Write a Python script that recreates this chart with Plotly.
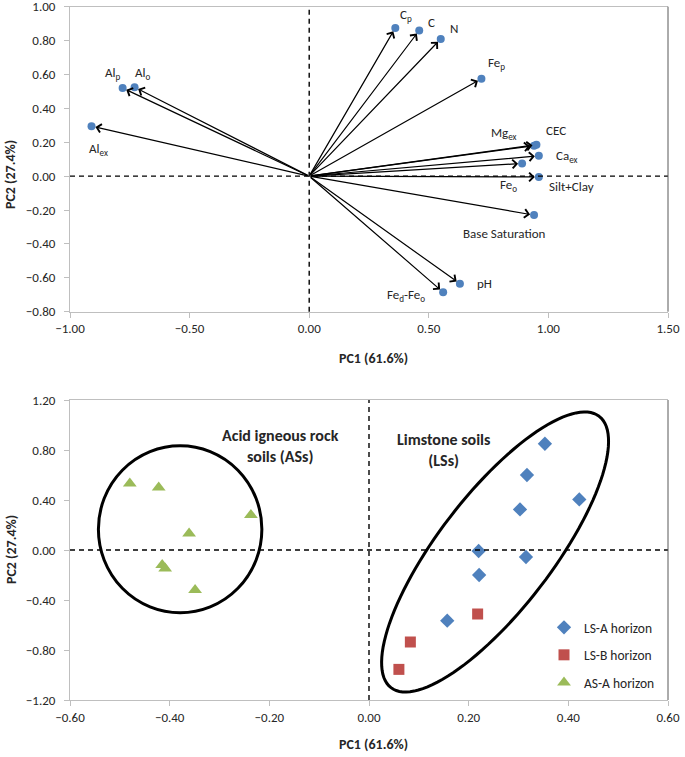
import numpy as np
import plotly.graph_objects as go

# ---------------- Data: loadings (top biplot) ----------------
var_labels = ["C<sub>p</sub>", "C", "N", "Fe<sub>p</sub>", "Al<sub>p</sub>", "Al<sub>o</sub>",
              "Al<sub>ex</sub>", "Mg<sub>ex</sub>", "CEC", "Ca<sub>ex</sub>", "Fe<sub>o</sub>",
              "Silt+Clay", "Base Saturation", "pH", "Fe<sub>d</sub>-Fe<sub>o</sub>"]
load_pc1 = [0.36, 0.46, 0.55, 0.72, -0.78, -0.73, -0.91, 0.94, 0.95, 0.96, 0.89, 0.96, 0.94, 0.63, 0.56]
load_pc2 = [0.875, 0.86, 0.81, 0.575, 0.52, 0.525, 0.295, 0.18, 0.185, 0.12, 0.075, -0.005, -0.23, -0.635, -0.685]

# label offsets in pixels (position styling, not data)
label_shift = [(11, 12), (12, 8), (13, 10), (15, 15), (-10, 15), (8, 14), (7, -23),
               (-30, 12), (20, 14), (28, -1), (-14, -22), (33, -10), (-30, -18), (25, 0), (-37, -3)]

# ---------------- Data: scores (bottom plot) ----------------
lsa_pc1 = [0.353, 0.317, 0.422, 0.303, 0.220, 0.315, 0.221, 0.157]
lsa_pc2 = [0.85, 0.60, 0.405, 0.325, -0.008, -0.056, -0.20, -0.565]
lsb_pc1 = [0.218, 0.083, 0.060]
lsb_pc2 = [-0.512, -0.736, -0.955]
asa_pc1 = [-0.480, -0.422, -0.237, -0.361, -0.415, -0.409, -0.349]
asa_pc2 = [0.533, 0.50, 0.28, 0.133, -0.12, -0.147, -0.32]

top_xticks = [-1.0, -0.5, 0.0, 0.5, 1.0, 1.5]
top_yticks = [-0.8, -0.6, -0.4, -0.2, 0.0, 0.2, 0.4, 0.6, 0.8, 1.0]
bot_xticks = [-0.6, -0.4, -0.2, 0.0, 0.2, 0.4, 0.6]
bot_yticks = [-1.2, -0.8, -0.4, 0.0, 0.4, 0.8, 1.2]

FONT = "Calibri, Carlito, Lato, sans-serif"
TXT = "#262626"
BLUE = "#4F81BD"
RED = "#C0504D"
GREEN = "#9BBB59"
AXC = "#BFBFBF"

W, H = 685, 757
XL, XR = 70, 668
fig = go.Figure()

# top plot markers
fig.add_trace(go.Scatter(x=load_pc1, y=load_pc2, mode="markers", xaxis="x", yaxis="y",
                         marker=dict(color=BLUE, size=8), showlegend=False, hoverinfo="skip"))

# bottom plot series
fig.add_trace(go.Scatter(x=lsa_pc1, y=lsa_pc2, mode="markers", xaxis="x2", yaxis="y2",
                         name="LS-A horizon", legendgroup="a",
                         marker=dict(symbol="diamond", color=BLUE, size=11)))
fig.add_trace(go.Scatter(x=lsb_pc1, y=lsb_pc2, mode="markers", xaxis="x2", yaxis="y2",
                         name="LS-B horizon", legendgroup="b",
                         marker=dict(symbol="square", color=RED, size=11)))
fig.add_trace(go.Scatter(x=asa_pc1, y=asa_pc2, mode="markers", xaxis="x2", yaxis="y2",
                         name="AS-A horizon", legendgroup="c",
                         marker=dict(symbol="triangle-up", color=GREEN, size=12)))

annotations = []
# arrows and labels
for lab, px, py, (dx, dy) in zip(var_labels, load_pc1, load_pc2, label_shift):
    annotations.append(dict(x=px, y=py, ax=0, ay=0, xref="x", yref="y", axref="x", ayref="y",
                            text="", showarrow=True, arrowhead=4, arrowsize=1.4,
                            arrowwidth=1.2, arrowcolor="black", standoff=4))
    annotations.append(dict(x=px, y=py, xref="x", yref="y", text=lab, showarrow=False,
                            xshift=dx, yshift=dy, font=dict(family=FONT, size=13, color=TXT)))

# group labels
annotations.append(dict(x=-0.178, y=0.83, xref="x2", yref="y2", showarrow=False,
                        text="<b>Acid igneous rock<br>soils (ASs)</b>",
                        font=dict(family=FONT, size=16, color=TXT)))
annotations.append(dict(x=0.15, y=0.80, xref="x2", yref="y2", showarrow=False,
                        text="<b>Limstone soils<br>(LSs)</b>",
                        font=dict(family=FONT, size=16, color=TXT)))

# axis titles
for yy in [1 - 358 / H, 1 - 744 / H]:
    annotations.append(dict(x=373 / W, y=yy, xref="paper", yref="paper", showarrow=False,
                            xanchor="center", yanchor="middle",
                            text="<b>PC1 (61.6%)</b>", font=dict(family=FONT, size=14, color=TXT)))
for yy in [1 - 175 / H, 1 - 550 / H]:
    annotations.append(dict(x=11 / W, y=yy, xref="paper", yref="paper", showarrow=False,
                            xanchor="center", yanchor="middle",
                            textangle=-90, text="<b>PC2 (27.4%)</b>",
                            font=dict(family=FONT, size=14, color=TXT)))

shapes = []
dash = dict(color="black", width=1.4, dash="5px,4px")
for xr, yr in [("x", "y"), ("x2", "y2")]:
    shapes.append(dict(type="line", xref=xr, yref=yr + " domain", x0=0, x1=0, y0=0, y1=1, line=dash))
    shapes.append(dict(type="line", xref=xr + " domain", yref=yr, x0=0, x1=1, y0=0, y1=0, line=dash))
    shapes.append(dict(type="line", xref=xr + " domain", yref=yr + " domain", x0=1, x1=1, y0=0, y1=1,
                       line=dict(color="#595959", width=1)))

# circle around AS group
shapes.append(dict(type="circle", xref="x2", yref="y2", x0=-0.379 - 0.164, x1=-0.379 + 0.164,
                   y0=0.166 - 0.668, y1=0.166 + 0.668, line=dict(color="black", width=3)))

# rotated ellipse around LS group (built in pixel space then mapped to data)
sx, sy = (XR - XL) / 1.2, 125.0  # px per unit on bottom axes
cx, cy = 0.253, -0.016
a_px, b_px, th = 171.0, 57.0, np.deg2rad(52.5)
t = np.linspace(0, 2 * np.pi, 121)
ex = cx + (a_px * np.cos(t) * np.cos(th) - b_px * np.sin(t) * np.sin(th)) / sx
ey = cy + (a_px * np.cos(t) * np.sin(th) + b_px * np.sin(t) * np.cos(th)) / sy
path = "M " + " L ".join(f"{x:.4f},{y:.4f}" for x, y in zip(ex, ey)) + " Z"
shapes.append(dict(type="path", xref="x2", yref="y2", path=path, line=dict(color="black", width=3)))

axis_common = dict(showgrid=False, zeroline=False, showline=True, linecolor=AXC, linewidth=1,
                   ticks="outside", ticklen=5, tickcolor=AXC, tickformat=".2f",
                   tickfont=dict(family=FONT, size=13, color=TXT), automargin=False,
                   ticklabeloverflow="allow")

fig.update_layout(
    width=W, height=H, margin=dict(l=0, r=0, t=0, b=0),
    paper_bgcolor="white", plot_bgcolor="white",
    xaxis=dict(domain=[XL / W, XR / W], range=[-1.0, 1.5], tickvals=top_xticks, anchor="y",
               mirror=True, **axis_common),
    yaxis=dict(domain=[1 - 311.7 / H, 1 - 6.7 / H], range=[-0.8, 1.0], tickvals=top_yticks,
               anchor="x", ticklabelstandoff=6, **axis_common),
    xaxis2=dict(domain=[XL / W, XR / W], range=[-0.6, 0.6], tickvals=bot_xticks, anchor="y2",
                mirror=True, **axis_common),
    yaxis2=dict(domain=[1 - 700 / H, 1 - 400 / H], range=[-1.2, 1.2], tickvals=bot_yticks,
                anchor="x2", ticklabelstandoff=6, **axis_common),
    legend=dict(x=544 / W, y=1 - 612 / H, xanchor="left", yanchor="top",
                font=dict(family=FONT, size=13.5, color=TXT), bgcolor="rgba(0,0,0,0)",
                traceorder="grouped", tracegroupgap=7),
    annotations=annotations, shapes=shapes,
)

fig.write_html("out.html", config={"displayModeBar": False},
               post_script="document.body.style.margin='0px';")
